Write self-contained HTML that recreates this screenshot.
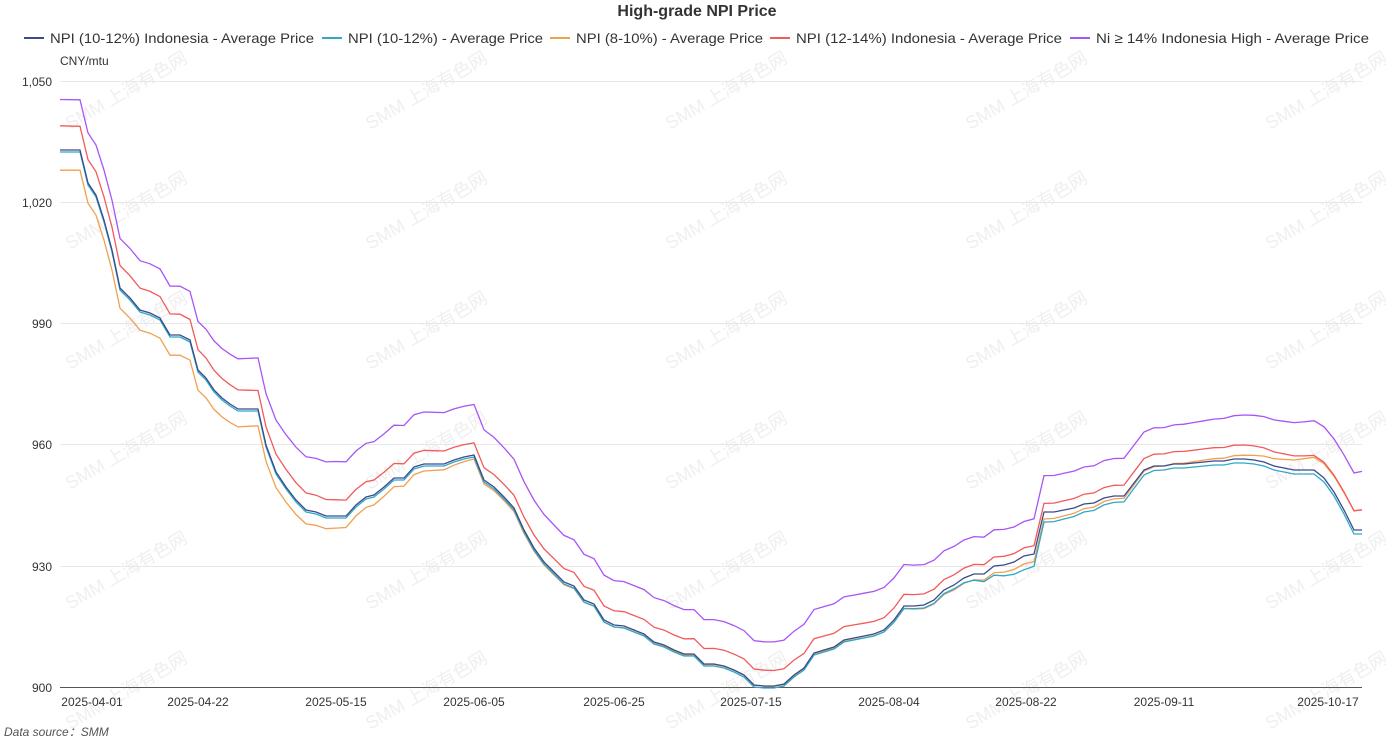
<!DOCTYPE html>
<html><head><meta charset="utf-8">
<style>
body{margin:0;background:#fff;font-family:"Liberation Sans","Noto Sans CJK SC",sans-serif;}
svg text{font-family:"Liberation Sans","Noto Sans CJK SC",sans-serif;}
</style></head><body>
<svg id="c" width="1386" height="742" xmlns="http://www.w3.org/2000/svg">
<text x="697" y="16" text-anchor="middle" font-size="16" font-weight="bold" fill="#333">High-grade NPI Price</text>
<g font-size="14" fill="#333">
<line x1="24" y1="38" x2="44" y2="38" stroke="#3b4a8a" stroke-width="2"/><text x="50" y="43" textLength="264" lengthAdjust="spacingAndGlyphs">NPI (10-12%) Indonesia - Average Price</text>
<line x1="322" y1="38" x2="342" y2="38" stroke="#2fa8c8" stroke-width="2"/><text x="348" y="43" textLength="195" lengthAdjust="spacingAndGlyphs">NPI (10-12%) - Average Price</text>
<line x1="550" y1="38" x2="570" y2="38" stroke="#f0a050" stroke-width="2"/><text x="576" y="43" textLength="187" lengthAdjust="spacingAndGlyphs">NPI (8-10%) - Average Price</text>
<line x1="770" y1="38" x2="790" y2="38" stroke="#f25a5a" stroke-width="2"/><text x="796" y="43" textLength="266" lengthAdjust="spacingAndGlyphs">NPI (12-14%) Indonesia - Average Price</text>
<line x1="1070" y1="38" x2="1090" y2="38" stroke="#a855f7" stroke-width="2"/><text x="1096" y="43" textLength="273" lengthAdjust="spacingAndGlyphs">Ni ≥ 14% Indonesia High - Average Price</text>
</g>
<text x="60" y="65" font-size="12" fill="#333">CNY/mtu</text>
<g id="wm" font-size="18" fill="#efefef"></g>
<g stroke="#e8e8e8" stroke-width="1">
<line x1="60" y1="81.5" x2="1362" y2="81.5"/><line x1="60" y1="202.5" x2="1362" y2="202.5"/>
<line x1="60" y1="323.5" x2="1362" y2="323.5"/><line x1="60" y1="444.5" x2="1362" y2="444.5"/>
<line x1="60" y1="566.5" x2="1362" y2="566.5"/>
</g>
<line x1="60" y1="687.5" x2="1362" y2="687.5" stroke="#555"/>
<g font-size="12" fill="#333" text-anchor="end">
<text x="52" y="86">1,050</text><text x="52" y="207">1,020</text><text x="52" y="328">990</text>
<text x="52" y="449">960</text><text x="52" y="571">930</text><text x="52" y="692">900</text>
</g>
<g font-size="12" fill="#333" text-anchor="middle">
<text x="92" y="706">2025-04-01</text><text x="198" y="706">2025-04-22</text><text x="336" y="706">2025-05-15</text>
<text x="474" y="706">2025-06-05</text><text x="614" y="706">2025-06-25</text><text x="751" y="706">2025-07-15</text>
<text x="889" y="706">2025-08-04</text><text x="1026" y="706">2025-08-22</text><text x="1164" y="706">2025-09-11</text>
<text x="1328" y="706">2025-10-17</text>
</g>
<text x="4" y="736" font-size="12" font-style="italic" fill="#555">Data source：SMM</text>
<g id="lines" fill="none" stroke-width="1.3"></g>
</svg>
<script>
var b=[[60,150],[80,150],[88,183],[96,195],[104,220],[112,250],[120,288],[130,298],[140,310],[150,313],[160,318],[170,335],[180,335],[190,340],[198,370],[206,378],[214,390],[222,398],[230,404],[238,409],[248,409],[258,409],[266,445],[276,472],[286,487],[296,500],[306,510],[316,512],[326,516],[336,516],[346,516],[356,505],[366,497],[374,495],[384,487],[394,478],[404,478],[414,467],[424,464],[434,464],[444,464],[454,460],[464,457],[474,455],[484,480],[494,487],[504,497],[514,508],[524,530],[534,548],[544,562],[554,572],[564,582],[574,586],[584,600],[594,604],[604,620],[614,625],[624,626],[634,630],[644,634],[654,642],[664,645],[674,650],[684,654],[694,654],[704,664],[714,664],[724,666],[734,670],[744,675],[754,685],[764,686],[774,686],[784,684],[794,675],[804,668],[814,653],[824,650],[834,647],[844,640],[854,638],[864,636],[874,634],[884,630],[894,620],[904,606],[914,606],[924,605],[934,600],[944,590],[954,585],[964,578],[974,574],[984,574],[994,566],[1004,565],[1014,562],[1024,556],[1034,554],[1044,512],[1054,512],[1064,510],[1074,508],[1084,504],[1094,503],[1104,498],[1114,496],[1124,496],[1134,483],[1144,470],[1154,466],[1164,466],[1174,464],[1184,464],[1194,463],[1204,462],[1214,461],[1224,461],[1234,459],[1244,459],[1254,460],[1264,462],[1274,466],[1284,468],[1294,470],[1304,470],[1314,470],[1324,478],[1334,492],[1344,510],[1354,530],[1362,530]];
function interp(k,x){for(var i=0;i<k.length-1;i++){if(x<=k[i+1][0]){var t=(x-k[i][0])/(k[i+1][0]-k[i][0]);return k[i][1]+t*(k[i+1][1]-k[i][1]);}}return k[k.length-1][1];}
var S=[
["#f0a050",[[60,-5],[200,-5],[336,-3],[474,-1],[750,0],[889,-0.5],[1026,-2],[1164,0],[1250,1],[1310,3],[1362,5]]],
["#2fa8c8",[[60,-0.5],[889,-0.5],[960,-1],[1026,-3.5],[1044,-2.5],[1120,-1.5],[1164,-1],[1362,-1]]],
["#3b4a8a",[[60,0],[1362,0]]],
["#f25a5a",[[60,6],[200,5],[336,4],[474,3],[750,4],[889,3],[1026,2],[1164,3],[1250,3.5],[1310,3.5],[1362,5]]],
["#a855f7",[[60,12.5],[200,12],[336,13.5],[474,12.5],[614,11],[750,11],[889,10.5],[1026,8.5],[1044,9],[1164,9.5],[1250,11],[1310,12],[1362,14.5]]]];
var g=document.getElementById('lines'),ns="http://www.w3.org/2000/svg";
S.forEach(function(s){var p=b.map(function(q){return q[0]+","+(q[1]-interp(s[1],q[0])*4.04).toFixed(1)}).join(" ");
var e=document.createElementNS(ns,"polyline");e.setAttribute("points",p);e.setAttribute("stroke",s[0]);g.appendChild(e);});
var w=document.getElementById('wm');
for(var r=0;r<6;r++)for(var c=0;c<5;c++){var x=70+c*300,y=130+r*120;var t=document.createElementNS(ns,"text");
t.setAttribute("x",x);t.setAttribute("y",y);t.setAttribute("transform","rotate(-30 "+x+" "+y+")");t.textContent="SMM 上海有色网";w.appendChild(t);}
</script>
</body></html>
